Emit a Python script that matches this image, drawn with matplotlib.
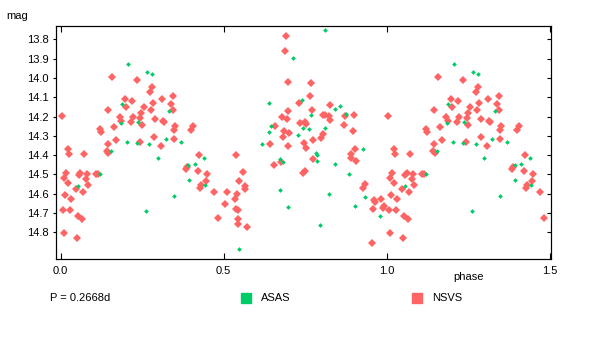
import matplotlib.pyplot as plt
from matplotlib.patches import Rectangle
import numpy as np

# NSVS points, phase 0..1
nsvs_phase = [0.004, 0.157, 0.233, 0.198, 0.219, 0.201, 0.255, 0.146, 0.248, 0.182,
              0.222, 0.186, 0.215, 0.245, 0.250, 0.163, 0.121, 0.124, 0.170, 0.145,
              0.243, 0.142, 0.147, 0.022, 0.025, 0.071, 0.016, 0.010, 0.022, 0.061,
              0.057, 0.080, 0.077, 0.084, 0.109, 0.115, 0.047, 0.069, 0.014, 0.032,
              0.007, 0.029, 0.054, 0.065, 0.010, 0.050,
              0.280, 0.274, 0.311, 0.345, 0.283, 0.339, 0.277, 0.344, 0.290, 0.313,
              0.317, 0.350, 0.348, 0.405, 0.399, 0.287, 0.347, 0.308, 0.424, 0.387,
              0.384, 0.420, 0.449, 0.445, 0.430, 0.427, 0.470, 0.509, 0.504, 0.483,
              0.690, 0.687, 0.696, 0.767, 0.764, 0.731, 0.770, 0.696, 0.679, 0.693,
              0.656, 0.734, 0.748, 0.752, 0.684, 0.699, 0.681, 0.774, 0.641, 0.696,
              0.745, 0.751, 0.537, 0.773, 0.676, 0.653, 0.748, 0.742, 0.558, 0.546,
              0.565, 0.565, 0.540, 0.535, 0.538, 0.544, 0.543, 0.543, 0.571,
              0.826, 0.803, 0.812, 0.822, 0.827, 0.872, 0.900, 0.869, 0.896, 0.803,
              0.798, 0.903, 0.890, 0.889, 0.906, 0.932, 0.928, 0.961, 0.965, 0.981,
              0.992, 0.987, 0.958, 0.954]
nsvs_mag = [14.196, 13.994, 14.009, 14.111, 14.118, 14.149, 14.152, 14.165, 14.180, 14.201,
            14.201, 14.223, 14.227, 14.209, 14.246, 14.253, 14.266, 14.280, 14.320, 14.341,
            14.331, 14.379, 14.389, 14.367, 14.393, 14.393, 14.491, 14.519, 14.543, 14.491,
            14.503, 14.496, 14.524, 14.553, 14.496, 14.496, 14.574, 14.590, 14.605, 14.626,
            14.683, 14.686, 14.717, 14.729, 14.802, 14.828,
            14.046, 14.072, 14.108, 14.092, 14.128, 14.134, 14.165, 14.165, 14.211, 14.222,
            14.230, 14.248, 14.268, 14.248, 14.268, 14.306, 14.315, 14.351, 14.398, 14.460,
            14.471, 14.481, 14.496, 14.533, 14.553, 14.570, 14.590, 14.590, 14.652, 14.724,
            13.781, 13.859, 14.020, 14.025, 14.092, 14.128, 14.165, 14.170, 14.201, 14.211,
            14.248, 14.232, 14.228, 14.237, 14.274, 14.284, 14.305, 14.320, 14.341, 14.351,
            14.336, 14.362, 14.398, 14.419, 14.434, 14.450, 14.481, 14.491, 14.486, 14.533,
            14.560, 14.577, 14.600, 14.626, 14.678, 14.686, 14.733, 14.755, 14.771,
            14.139, 14.191, 14.191, 14.197, 14.217, 14.196, 14.191, 14.242, 14.274, 14.289,
            14.310, 14.367, 14.393, 14.413, 14.429, 14.548, 14.570, 14.631, 14.641, 14.626,
            14.664, 14.674, 14.678, 14.854]

# ASAS points, phase 0..1
asas_phase = [0.206, 0.264, 0.280, 0.188, 0.237, 0.184, 0.332, 0.203, 0.234, 0.155,
              0.121, 0.055, 0.261, 0.323, 0.272, 0.369, 0.299, 0.392, 0.412, 0.440,
              0.394, 0.443, 0.347,
              0.712, 0.638, 0.739, 0.767, 0.644, 0.743, 0.761, 0.638, 0.727, 0.617,
              0.672, 0.682, 0.672, 0.696, 0.546,
              0.811, 0.856, 0.840, 0.876, 0.811, 0.782, 0.786, 0.786, 0.841, 0.927,
              0.883, 0.823, 0.933, 0.903, 0.979, 0.795]
asas_mag = [13.926, 13.968, 13.978, 14.134, 14.227, 14.234, 14.170, 14.331, 14.337, 14.377,
            14.496, 14.562, 14.688, 14.315, 14.341, 14.331, 14.413, 14.450, 14.445, 14.413,
            14.527, 14.555, 14.610,
            13.897, 14.128, 14.113, 14.191, 14.248, 14.258, 14.263, 14.279, 14.294, 14.341,
            14.419, 14.434, 14.579, 14.667, 14.885,
            13.750, 14.144, 14.160, 14.185, 14.258, 14.388, 14.398, 14.429, 14.445, 14.367,
            14.496, 14.600, 14.616, 14.662, 14.714, 14.761]

period_text = 'P = 0.2668d'
x_ticks = [0.0, 0.5, 1.0, 1.5]
y_ticks = [13.8, 13.9, 14.0, 14.1, 14.2, 14.3, 14.4, 14.5, 14.6, 14.7, 14.8]

red = '#ff6464'
green = '#00cc66'


def extend_phase(ph, mag):
    # show phase 0..1.5 by repeating the first half cycle
    ph = np.array(ph)
    mag = np.array(mag)
    first = ph < 0.5
    return np.concatenate([ph, ph[first] + 1.0]), np.concatenate([mag, mag[first]])


plt.rcParams['font.family'] = ['Liberation Sans', 'DejaVu Sans']
plt.rcParams['font.size'] = 8

fig = plt.figure(figsize=(6.05, 3.41), dpi=100)
ax = fig.add_axes([56 / 605, 82 / 341, 495 / 605, 233 / 341])

px, py = extend_phase(nsvs_phase, nsvs_mag)
ax.plot(px, py, linestyle='None', marker='D', ms=3.9, mew=0, color=red, zorder=2)
px, py = extend_phase(asas_phase, asas_mag)
ax.plot(px, py, linestyle='None', marker='D', ms=2.4, mew=0, color=green, zorder=3)

ax.set_xlim(-0.0138, 1.503)
ax.set_ylim(14.938, 13.731)
ax.set_xticks(x_ticks)
ax.set_xticklabels(['%.1f' % t for t in x_ticks])
ax.set_yticks(y_ticks)
ax.set_yticklabels(['%.1f' % t for t in y_ticks])
ax.tick_params(axis='x', direction='in', top=True, length=4, width=0.8, pad=5)
ax.tick_params(axis='y', direction='out', length=2.5, width=0.8, pad=3)
for s in ax.spines.values():
    s.set_linewidth(0.8)

# inward ticks on the right side
ax_r = ax.twinx()
ax_r.set_ylim(ax.get_ylim())
ax_r.set_yticks(y_ticks)
ax_r.set_yticklabels([])
ax_r.tick_params(axis='y', direction='in', length=3, width=0.8)

fig.text(6 / 605, 1 - 16 / 341, 'mag', ha='left', va='center')
fig.text(453 / 605, 1 - 277 / 341, 'phase', ha='left', va='center')

# legend row below the plot
fig.text(50 / 605, 1 - 298 / 341, period_text, ha='left', va='center')
fig.patches.append(Rectangle((241 / 605, 1 - 303 / 341), 10 / 605, 10 / 341,
                             transform=fig.transFigure, color=green, figure=fig))
fig.text(261 / 605, 1 - 298 / 341, 'ASAS', ha='left', va='center')
fig.patches.append(Rectangle((412 / 605, 1 - 303 / 341), 10 / 605, 10 / 341,
                             transform=fig.transFigure, color=red, figure=fig))
fig.text(432 / 605, 1 - 298 / 341, 'NSVS', ha='left', va='center')

fig.savefig('out.png', dpi=100)
